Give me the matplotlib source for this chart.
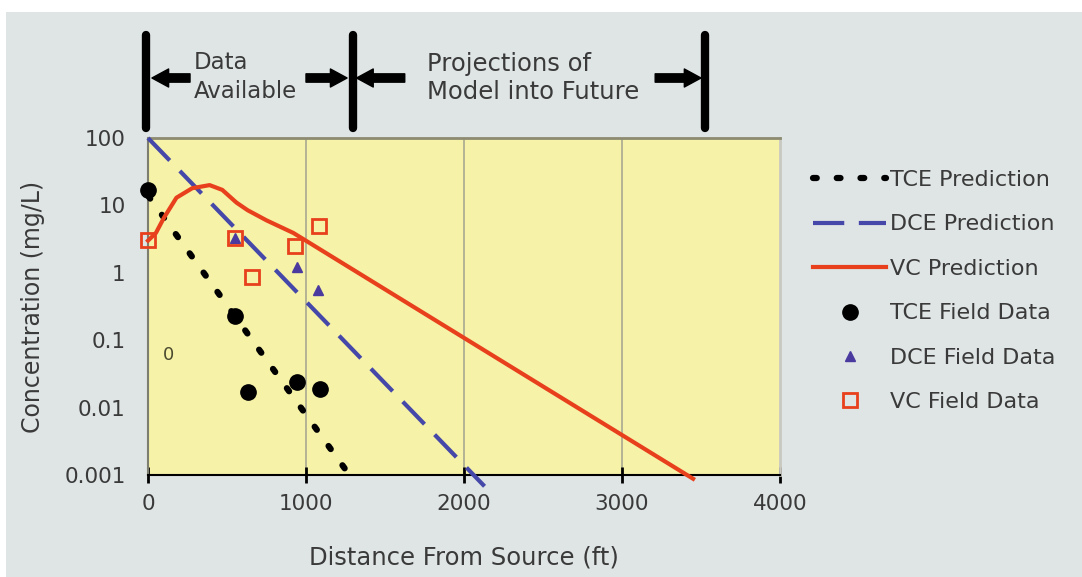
import matplotlib.pyplot as plt
import matplotlib.transforms as mtransforms
from matplotlib.patches import Rectangle

plt.rcParams['font.family'] = ['DejaVu Sans']

# model predictions (straight lines on log scale, given by end points)
tce_pred_x = [0, 1275]
tce_pred_y = [14, 0.001]
dce_pred_x = [0, 2130]
dce_pred_y = [100, 0.00068]
vc_pred_x = [0, 50, 100, 180, 280, 390, 470, 560, 630, 750, 920, 3450]
vc_pred_y = [3.0, 3.9, 6.5, 13, 18, 20, 17, 11, 8.5, 6.0, 3.9, 0.00088]

# field data
tce_x = [0, 550, 635, 940, 1090]
tce_y = [17, 0.23, 0.017, 0.024, 0.019]
dce_x = [550, 940, 1075]
dce_y = [3.3, 1.2, 0.55]
vc_x = [0, 550, 660, 930, 1080]
vc_y = [3.1, 3.3, 0.87, 2.5, 4.9]

yticks = [100, 10, 1, 0.1, 0.01, 0.001]
ytick_labels = ['100', '10', '1', '0.1', '0.01', '0.001']
xticks = [0, 1000, 2000, 3000, 4000]

# period boundaries shown above the chart
bounds = [-15, 1300, 3525]

fig = plt.figure(figsize=(10.82, 5.77), dpi=100, facecolor='white')
fig.patches.append(Rectangle((6 / 1082, 0), 1, 1 - 12 / 577, transform=fig.transFigure,
                             facecolor='#dfe4e4', edgecolor='none', zorder=-10))

ax = fig.add_axes([148 / 1082, 1 - 475 / 577, 632 / 1082, 337 / 577])
ax.set_facecolor('#f6f2a8')
ax.set_yscale('log')
ax.set_xlim(0, 4000)
ax.set_ylim(0.001, 100)

for gx in [1000, 2000, 3000]:
    ax.axvline(gx, color='#a8a890', lw=1.2, zorder=1)

ax.plot(tce_pred_x, tce_pred_y, color='black', lw=4.5, linestyle=(0, (0.6, 3.2)),
        dash_capstyle='round', label='TCE Prediction', clip_on=False, zorder=3)
ax.plot(dce_pred_x, dce_pred_y, color='#4548a8', lw=3, linestyle=(0, (7.5, 3.5)),
        label='DCE Prediction', clip_on=False, zorder=3)
ax.plot(vc_pred_x, vc_pred_y, color='#e8401c', lw=3, label='VC Prediction',
        clip_on=False, zorder=3, solid_joinstyle='round')

ax.plot(tce_x, tce_y, 'o', color='black', ms=11, label='TCE Field Data', zorder=4,
        clip_on=False)
ax.plot(dce_x, dce_y, '^', color='#4a3aa0', ms=7, label='DCE Field Data', zorder=5,
        clip_on=False)
ax.plot(vc_x, vc_y, 's', mfc='none', mec='#e8401c', mew=2, ms=10,
        label='VC Field Data', zorder=5, clip_on=False)

ax.text(127, 0.06, '0', fontsize=13, color='#4a4a30', ha='center', va='center')

ax.set_yticks(yticks)
ax.set_yticklabels(ytick_labels)
ax.minorticks_off()
ax.set_xticks(xticks)
ax.tick_params(axis='y', length=0, pad=16, labelsize=15.5, labelcolor='#3a3a3a')
ax.tick_params(axis='x', direction='inout', length=12, width=2, pad=8,
               labelsize=15.5, labelcolor='#3a3a3a')

ax.spines['bottom'].set_color('black')
ax.spines['bottom'].set_linewidth(1.5)
ax.spines['top'].set_color('#8c8a70')
ax.spines['top'].set_linewidth(2)
ax.spines['left'].set_color('#7d7d70')
ax.spines['left'].set_linewidth(1.5)
ax.spines['right'].set_color('#c8c8c0')
ax.spines['right'].set_linewidth(2)

ax.set_xlabel('Distance From Source (ft)', fontsize=17.5, color='#3a3a3a', labelpad=22)
ax.set_ylabel('Concentration (mg/L)', fontsize=17, color='#3a3a3a', labelpad=14)

# boundary bars and arrows above the axes
trans = mtransforms.blended_transform_factory(ax.transData, fig.transFigure)
for b in bounds:
    ax.plot([b, b], [1 - 35 / 577, 1 - 128 / 577], color='black', lw=6,
            solid_capstyle='round', transform=trans, clip_on=False)

ay = 1 - 78 / 577
arrows = [(266, 25), (1000, 1260), (1625, 1320), (3210, 3500)]
for x0, x1 in arrows:
    ax.annotate('', xy=(x1, ay), xytext=(x0, ay), xycoords=trans, textcoords=trans,
                arrowprops=dict(arrowstyle='simple,head_length=0.6,head_width=0.65,tail_width=0.3',
                                color='black', mutation_scale=20, shrinkA=0, shrinkB=0))

ax.text(290, 1 - 77 / 577, 'Data\nAvailable', transform=trans, fontsize=16.5,
        color='#3a3a3a', ha='left', va='center', linespacing=1.3)
ax.text(1766, 1 - 78 / 577, 'Projections of\nModel into Future', transform=trans,
        fontsize=17.5, color='#3a3a3a', ha='left', va='center', linespacing=1.25)

fig.legend(loc='upper left', bbox_to_anchor=(793 / 1082, 1 - 150 / 577),
           frameon=False, fontsize=16, labelspacing=1.1, handlelength=3.3,
           handletextpad=0.15, labelcolor='#3a3a3a', numpoints=1)

fig.savefig('out.png', dpi=100, facecolor=fig.get_facecolor())
